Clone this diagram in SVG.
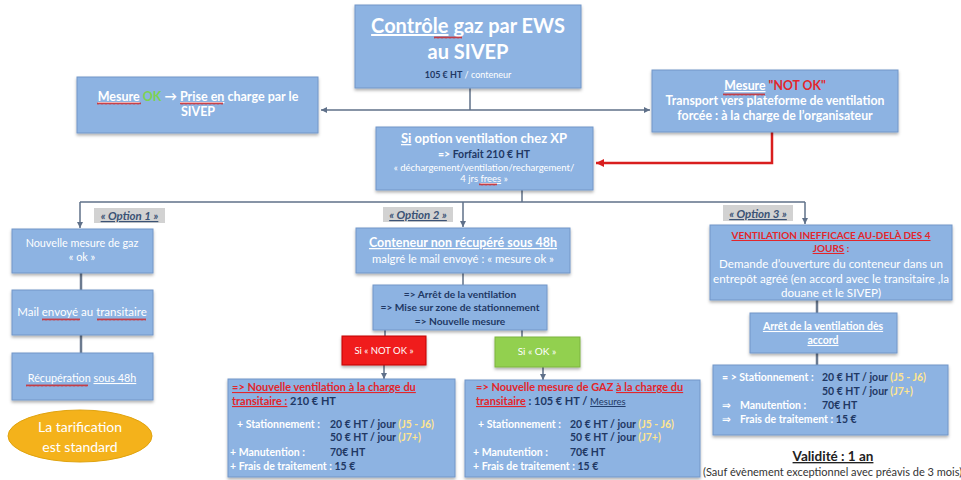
<svg xmlns="http://www.w3.org/2000/svg" width="961" height="480" viewBox="0 0 961 480">
<defs>
<style>
text{font-family:Lato,"Liberation Sans","DejaVu Sans",sans-serif}
.box{fill:#8DB3E2;stroke:#7396C8;stroke-width:1;filter:url(#sh)}
.w{fill:#fff}.db{fill:#1F3864}.rd{fill:#E3262B}.yl{fill:#FFE58F}
.b{font-weight:bold}.u{text-decoration:underline}
.c{text-anchor:middle}
.conn{stroke:#5F7089;stroke-width:1.5;fill:none}
.thick{stroke:#6B7A8F;stroke-width:2.5;fill:none}
.opt{font-weight:bold;font-style:italic;text-decoration:underline;fill:#3B5275;font-size:11.5px;text-anchor:middle}
.hl{fill:#D2D2D2}
.wave{fill:url(#wv)}
</style>
<filter id="sh" x="-5%" y="-5%" width="110%" height="125%"><feDropShadow dx="0" dy="2" stdDeviation="1.5" flood-color="#000" flood-opacity="0.3"/></filter>
<pattern id="wv" width="4" height="3" patternUnits="userSpaceOnUse"><path d="M0 2.5 L1 0.5 L2 2.5 L3 0.5 L4 2.5" fill="none" stroke="#D02020" stroke-width="0.8"/></pattern>
<marker id="ah" markerUnits="userSpaceOnUse" markerWidth="7" markerHeight="7" refX="6" refY="3.5" orient="auto"><path d="M0 0.5 L6 3.5 L0 6.5 Z" fill="#5F7089"/></marker>
<marker id="ahr" markerUnits="userSpaceOnUse" markerWidth="9" markerHeight="9" refX="8" refY="4.5" orient="auto"><path d="M0 0.5 L8 4.5 L0 8.5 Z" fill="#D91E1E"/></marker>
</defs>
<rect width="961" height="480" fill="#fff"/>

<g id="connectors">
<path class="conn" d="M470 88 V110"/>
<path class="conn" d="M470 110 H321" marker-end="url(#ah)"/>
<path class="conn" d="M470 110 H650" marker-end="url(#ah)"/>
<path d="M772 132 V163 H596" fill="none" stroke="#D91E1E" stroke-width="2.5" marker-end="url(#ahr)"/>
<path class="conn" d="M522 190 V202"/>
<path class="conn" d="M80 202 H805"/>
<path class="conn" d="M80 202 V228" marker-end="url(#ah)"/>
<path class="conn" d="M463 202 V227" marker-end="url(#ah)"/>
<path class="conn" d="M805 202 V224" marker-end="url(#ah)"/>
<path class="thick" d="M81 273 V290 M81 335 V353"/>
<path class="conn" d="M463 273 V285"/>
<path class="conn" d="M385 330 V336 M522 330 V337"/>
<path class="conn" d="M384 365 V379" marker-end="url(#ah)"/>
<path class="conn" d="M543 367 V380" marker-end="url(#ah)"/>
<path class="thick" d="M817 300 V313 M817 353 V365"/>
</g>

<g id="n-top">
<rect class="box" x="355" y="5" width="226" height="83"/>
<text x="468" y="33" class="w b c" font-size="20"><tspan class="u">Contrôle</tspan> gaz par EWS</text>
<text x="468" y="59" class="w b c" font-size="20">au SIVEP</text>
<text x="468" y="78" class="c" font-size="9"><tspan class="db b">105 € HT</tspan><tspan class="w"> / conteneur</tspan></text>
<rect class="wave" x="434" y="36" width="28" height="3"/>
</g>

<g id="n-ok">
<rect class="box" x="77" y="77" width="241" height="56"/>
<text x="198" y="101" class="w b c" font-size="12.5"><tspan class="u">Mesure</tspan> <tspan fill="#7CD34F">OK</tspan> → <tspan class="u">Prise en</tspan> charge par le</text>
<text x="198" y="116" class="w b c" font-size="12.5">SIVEP</text>
</g>

<g id="n-notok">
<rect class="box" x="652" y="70" width="246" height="62"/>
<text x="775" y="90" class="b c" font-size="12.3"><tspan class="w u">Mesure</tspan> <tspan class="rd">"NOT OK"</tspan></text>
<text x="775" y="105" class="w b c" font-size="12.3">Transport vers plateforme de ventilation</text>
<text x="775" y="120" class="w b c" font-size="12.3">forcée : à la charge de l’organisateur</text>
</g>

<g id="n-xp">
<rect class="box" x="376" y="127" width="217" height="63"/>
<text x="484" y="143" class="w b c" font-size="13"><tspan class="u">Si</tspan> option ventilation chez XP</text>
<text x="484" y="158" class="b c" font-size="10.5"><tspan class="w">=&gt; </tspan><tspan class="db">Forfait 210 € HT</tspan></text>
<text x="484" y="171" class="w c" font-size="9.5">« déchargement/ventilation/rechargement/</text>
<text x="484" y="182" class="w c" font-size="9.5">4 jrs <tspan class="u">frees</tspan> »</text>
</g>

<g id="options">
<rect class="hl" x="94" y="208" width="71" height="15"/>
<text x="129.5" y="220" class="opt">« Option 1 »</text>
<rect class="hl" x="383" y="207" width="70" height="15"/>
<text x="418" y="219" class="opt">« Option 2 »</text>
<rect class="hl" x="723" y="205" width="70" height="16"/>
<text x="758" y="218" class="opt">« Option 3 »</text>
</g>

<g id="n-l1">
<rect class="box" x="12" y="229" width="141" height="44"/>
<text x="82" y="247" class="w c" font-size="10.8">Nouvelle mesure de gaz</text>
<text x="82" y="261" class="w c" font-size="10.8">« ok »</text>
</g>
<g id="n-l2">
<rect class="box" x="12" y="290" width="141" height="45"/>
<text x="82" y="316" class="w c" font-size="11.5">Mail envoyé au transitaire</text>
</g>
<g id="n-l3">
<rect class="box" x="12" y="353" width="141" height="47"/>
<text x="82" y="382" class="w c" font-size="10.8">Récupération <tspan class="u">sous 48h</tspan></text>
</g>
<g id="n-std">
<ellipse cx="80" cy="436" rx="72" ry="26" fill="#F4B21B" stroke="#E0A30E"/>
<text x="80" y="432" class="w c" font-size="14">La tarification</text>
<text x="80" y="452" class="w c" font-size="14">est standard</text>
</g>

<g id="n-c1">
<rect class="box" x="356" y="228" width="214" height="45"/>
<text x="463" y="247" class="w b c u" font-size="12.5">Conteneur non récupéré sous 48h</text>
<text x="463" y="263" class="w c" font-size="11.3">malgré le mail envoyé : « mesure ok »</text>
</g>
<g id="n-c2">
<rect class="box" x="373" y="285" width="174" height="45"/>
<text x="460" y="298" class="db b c" font-size="10.2">=&gt; Arrêt de la ventilation</text>
<text x="460" y="311" class="db b c" font-size="10.2">=&gt; Mise sur zone de stationnement</text>
<text x="460" y="325" class="db b c" font-size="10.2">=&gt; Nouvelle mesure</text>
</g>
<g id="n-red">
<rect x="342" y="336" width="84" height="29" fill="#F01E1E" stroke="#C00000" filter="url(#sh)"/>
<text x="384" y="354" class="w c" font-size="9.5">Si « NOT OK »</text>
</g>
<g id="n-green">
<rect x="495" y="337" width="85" height="30" fill="#92D050" stroke="#7DB43C" filter="url(#sh)"/>
<text x="537" y="355" class="w c" font-size="10">Si « OK »</text>
</g>

<g id="n-bl">
<rect class="box" x="228" y="379" width="227" height="98"/>
<text x="232" y="391" class="rd b u" font-size="11">=&gt; Nouvelle ventilation à la charge du</text>
<text x="232" y="405" class="b" font-size="11"><tspan class="rd u">transitaire :</tspan><tspan class="db"> 210 € HT</tspan></text>
<g class="b" font-size="10.5">
<text x="237" y="428" class="w">+ Stationnement :</text>
<text x="330" y="428" class="db">20 € HT / jour<tspan class="yl"> (J5 - J6)</tspan></text>
<text x="330" y="441" class="db">50 € HT / jour<tspan class="yl"> (J7+)</tspan></text>
<text x="230" y="456" class="w">+ Manutention :</text>
<text x="330" y="456" class="db">70€ HT</text>
<text x="230" y="470" class="w">+ Frais de traitement :<tspan class="db"> 15 €</tspan></text>
</g>
</g>

<g id="n-bc">
<rect class="box" x="465" y="380" width="235" height="97"/>
<text x="476" y="391" class="rd b" font-size="11">=&gt; Nouvelle mesure de GAZ <tspan class="u">à la charge du</tspan></text>
<text x="476" y="405" class="b" font-size="11"><tspan class="rd u">transitaire</tspan><tspan class="db"> : 105 € HT / </tspan><tspan class="db u" font-weight="normal" font-size="9.5">Mesures</tspan></text>
<g class="b" font-size="10.5">
<text x="478" y="428" class="w">+ Stationnement :</text>
<text x="570" y="428" class="db">20 € HT / jour<tspan class="yl"> (J5 - J6)</tspan></text>
<text x="570" y="441" class="db">50 € HT / jour<tspan class="yl"> (J7+)</tspan></text>
<text x="473" y="456" class="w">+ Manutention :</text>
<text x="570" y="456" class="db">70€ HT</text>
<text x="473" y="470" class="w">+ Frais de traitement :<tspan class="db"> 15 €</tspan></text>
</g>
</g>

<g id="n-r1">
<rect class="box" x="710" y="225" width="242" height="75"/>
<text x="831" y="239" class="rd b c u" font-size="10">VENTILATION INEFFICACE AU-DELÀ DES 4</text>
<text x="831" y="252" class="rd b c" font-size="10"><tspan class="u">JOURS</tspan> :</text>
<text x="831" y="268" class="w c" font-size="11.6">Demande d’ouverture du conteneur dans un</text>
<text x="831" y="283" class="w c" font-size="11.6">entrepôt agréé (en accord avec le transitaire ,la</text>
<text x="831" y="297" class="w c" font-size="11.6">douane et le SIVEP)</text>
</g>
<g id="n-r2">
<rect class="box" x="750" y="313" width="147" height="40"/>
<text x="823" y="330" class="w b c u" font-size="10.5">Arrêt de la ventilation dès</text>
<text x="823" y="344" class="w b c u" font-size="10.5">accord</text>
</g>
<g id="n-r3">
<rect class="box" x="713" y="365" width="235" height="70"/>
<g class="b" font-size="10.5">
<text x="722" y="381" class="w">= &gt; Stationnement :</text>
<text x="822" y="381" class="db">20 € HT / jour<tspan class="yl"> (J5 - J6)</tspan></text>
<text x="822" y="395" class="db">50 € HT / jour<tspan class="yl"> (J7+)</tspan></text>
<text x="722" y="409" class="w">⇒</text>
<text x="740" y="409" class="w">Manutention :</text>
<text x="822" y="409" class="db">70€ HT</text>
<text x="722" y="423" class="w">⇒</text>
<text x="740" y="423" class="w">Frais de traitement :<tspan class="db"> 15 €</tspan></text>
</g>
</g>

<g id="validity">
<text x="833" y="461" class="b c u" font-size="13.5" fill="#222">Validité : 1 an</text>
<text x="703" y="476" font-size="11" fill="#333">(Sauf évènement exceptionnel avec préavis de 3 mois)</text>
</g>

<g id="spell">
<rect class="wave" x="97" y="102" width="44" height="3"/>
<rect class="wave" x="180" y="102" width="43" height="3"/>
<rect class="wave" x="723" y="93" width="42" height="3"/>
<rect class="wave" x="479" y="183" width="18" height="3"/>
<rect class="wave" x="42" y="318" width="38" height="3"/>
<rect class="wave" x="97" y="318" width="49" height="3"/>
<rect class="wave" x="26" y="384" width="62" height="3"/>
</g>
</svg>
